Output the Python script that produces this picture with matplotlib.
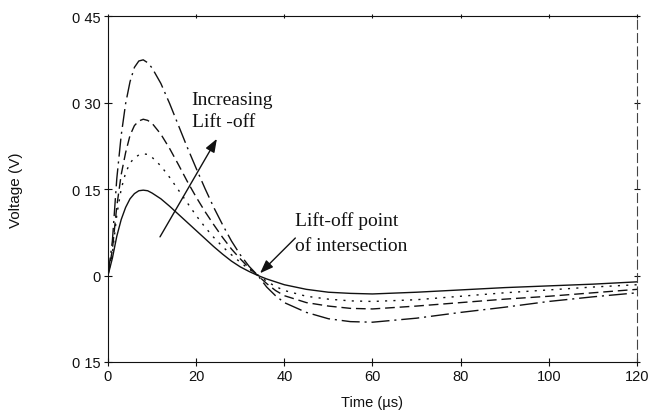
import matplotlib
matplotlib.use("Agg")
import matplotlib.pyplot as plt
from matplotlib.ticker import FixedLocator, FixedFormatter

# time samples (us) shared by all four lift-off traces
time_us = [0, 1, 2, 3, 4, 5, 6, 7, 8, 9, 10, 12, 14, 16, 18, 20, 22, 24, 26, 28,
           30, 32, 34, 36, 38, 40, 45, 50, 55, 60, 70, 80, 90, 100, 110, 120]

# voltage traces (V), smallest lift-off first
v_lift1 = [0, 0.030, 0.068, 0.097, 0.118, 0.133, 0.142, 0.147, 0.148, 0.147,
           0.143, 0.133, 0.120, 0.106, 0.092, 0.078, 0.064, 0.050, 0.037,
           0.025, 0.015, 0.007, 0.000, -0.006, -0.011, -0.016, -0.024,
           -0.029, -0.031, -0.032, -0.029, -0.025, -0.021, -0.018, -0.015,
           -0.011]
v_lift2 = [0, 0.038, 0.105, 0.150, 0.178, 0.195, 0.204, 0.209, 0.211, 0.210,
           0.205, 0.190, 0.170, 0.148, 0.126, 0.104, 0.084, 0.066, 0.050,
           0.036, 0.023, 0.011, 0.001, -0.010, -0.019, -0.026, -0.036,
           -0.041, -0.044, -0.045, -0.042, -0.036, -0.030, -0.025, -0.020,
           -0.016]
v_lift3 = [0, 0.045, 0.120, 0.175, 0.213, 0.243, 0.260, 0.268, 0.271, 0.269,
           0.264, 0.245, 0.220, 0.192, 0.163, 0.136, 0.111, 0.088, 0.066,
           0.046, 0.029, 0.013, 0.000, -0.014, -0.026, -0.035, -0.047,
           -0.053, -0.057, -0.058, -0.053, -0.047, -0.041, -0.036, -0.030,
           -0.024]
v_lift4 = [0, 0.060, 0.168, 0.243, 0.298, 0.336, 0.361, 0.372, 0.374, 0.369,
           0.360, 0.333, 0.298, 0.260, 0.222, 0.186, 0.151, 0.118, 0.088,
           0.060, 0.036, 0.016, 0.000, -0.020, -0.035, -0.047, -0.064,
           -0.075, -0.080, -0.081, -0.074, -0.064, -0.055, -0.045, -0.037,
           -0.030]

x_ticks = [0, 20, 40, 60, 80, 100, 120]
y_ticks = [-0.15, 0, 0.15, 0.30, 0.45]
y_tick_labels = ["0 15", "0", "0 15", "0 30", "0 45"]

sans = ["Liberation Sans", "DejaVu Sans"]
serif = ["Liberation Serif", "DejaVu Serif"]

fig = plt.figure(figsize=(6.52, 4.14), dpi=100)
ax = fig.add_axes([0.1656, 0.1232, 0.8114, 0.8357])

ink = "#111111"
lw = 1.0
styles = ["-", (0, (1.5, 4.5)), (0, (7, 3.5)), (0, (13, 3.5, 1.5, 3.5))]
for v, ls in zip([v_lift1, v_lift2, v_lift3, v_lift4], styles):
    ax.plot(time_us, v, color=ink, lw=lw, ls=ls,
            solid_joinstyle="round", dash_joinstyle="round")

ax.set_xlim(0, 120)
ax.set_ylim(-0.15, 0.45)
ax.xaxis.set_major_locator(FixedLocator(x_ticks))
ax.set_xticklabels([str(t) for t in x_ticks], family=sans, fontsize=10.5)
ax.yaxis.set_major_locator(FixedLocator(y_ticks))
ax.yaxis.set_major_formatter(FixedFormatter(y_tick_labels))
for lab in ax.get_yticklabels():
    lab.set_family(sans)
    lab.set_fontsize(10.5)

ax.tick_params(axis="both", direction="inout", length=6, width=0.8,
               color=ink, labelcolor=ink, pad=2)
ax.tick_params(axis="x", which="major", top=True)
ax.tick_params(axis="y", right=True)
ax.xaxis.set_tick_params(which="major", direction="inout")
for tk in ax.xaxis.get_major_ticks():
    tk.tick2line.set_markersize(3)
for tk in ax.yaxis.get_major_ticks():
    tk.tick2line.set_markersize(4)

for side in ("left", "bottom", "top"):
    ax.spines[side].set_linewidth(0.8)
    ax.spines[side].set_color(ink)
ax.spines["right"].set_linewidth(0.8)
ax.spines["right"].set_color("#444444")
ax.spines["right"].set_linestyle((0, (8, 4)))

ax.set_xlabel("Time (\u00b5s)", family=sans, fontsize=10.5, color=ink)
ax.set_ylabel("Voltage (V)", family=sans, fontsize=11, color=ink)
ax.xaxis.set_label_coords(0.5, -0.095)
ax.yaxis.set_label_coords(-0.16, 0.5)

# arrow pointing along increasing lift-off
ax.annotate("", xy=(24.7, 0.237), xytext=(11.8, 0.067),
            arrowprops=dict(arrowstyle="-|>,head_length=0.8,head_width=0.3",
                            color=ink, lw=1.0, shrinkA=0, shrinkB=0))
ax.text(19, 0.306, "Increasing", family=serif, fontsize=14, color=ink,
        ha="left", va="center")
ax.text(19, 0.267, "Lift -off", family=serif, fontsize=14, color=ink,
        ha="left", va="center")

# arrow to the common crossing point
ax.annotate("", xy=(34.5, 0.004), xytext=(42.5, 0.065),
            arrowprops=dict(arrowstyle="-|>,head_length=0.8,head_width=0.3",
                            color=ink, lw=1.0, shrinkA=0, shrinkB=0))
ax.text(42.5, 0.097, "Lift-off point", family=serif, fontsize=14, color=ink,
        ha="left", va="center")
ax.text(42.5, 0.052, "of intersection", family=serif, fontsize=14, color=ink,
        ha="left", va="center")

fig.savefig("out.png", dpi=100)
